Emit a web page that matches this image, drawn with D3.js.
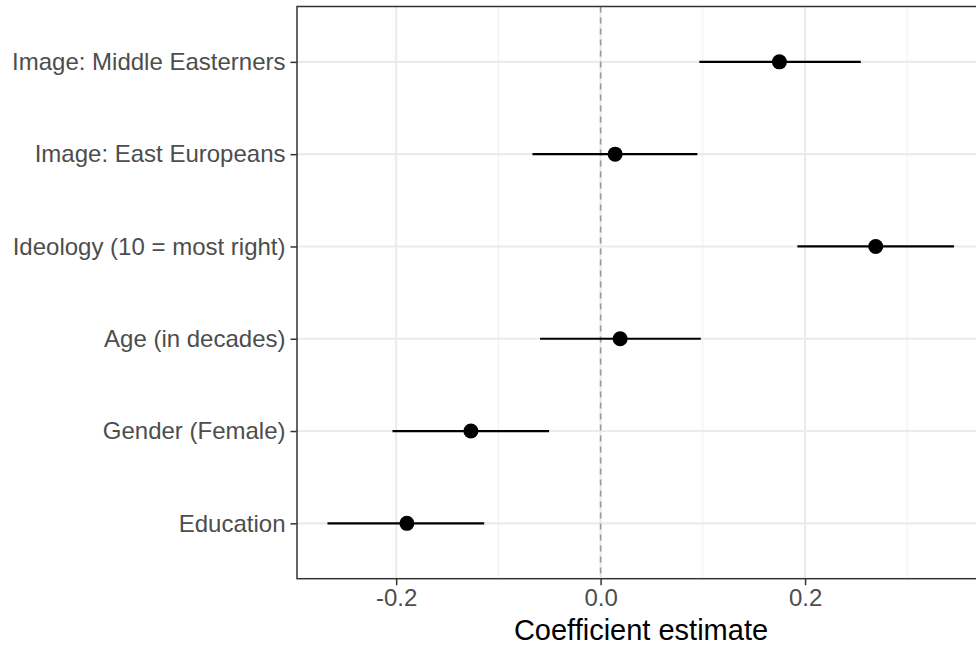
<!DOCTYPE html>
<html>
<head>
<meta charset="utf-8">
<script src="https://cdn.jsdelivr.net/npm/d3@7"></script>
<style>
  html, body { margin: 0; padding: 0; background: #fff; }
  svg { display: block; font-family: "Liberation Sans", Arial, sans-serif; }
</style>
</head>
<body>
<svg id="chart" width="976" height="646"></svg>
<script>
// Model terms, top to bottom
const terms = [
  "Image: Middle Easterners",
  "Image: East Europeans",
  "Ideology (10 = most right)",
  "Age (in decades)",
  "Gender (Female)",
  "Education"
];
const estimates = [0.1749, 0.0142, 0.2691, 0.0191, -0.1269, -0.1895];
const lower     = [0.0966, -0.0667, 0.1925, -0.0592, -0.2036, -0.2672];
const upper     = [0.2545, 0.0947, 0.3457, 0.0980, -0.0504, -0.1139];
const majorTicks = [-0.2, 0.0, 0.2];
const minorTicks = [-0.1, 0.1, 0.3];
const tickLabels = ["-0.2", "0.0", "0.2"];
const xTitle = "Coefficient estimate";

const rows = terms.map((t, i) => ({ term: t, est: estimates[i], lo: lower[i], hi: upper[i] }));

const svg = d3.select("#chart");
const panel = { left: 297, top: 6.5, right: 985, bottom: 578.7 };

const x = d3.scaleLinear().domain([-0.297, 0.376]).range([panel.left, panel.right]);
const y = d3.scalePoint().domain(terms.slice().reverse()).range([panel.bottom, panel.top]).padding(0.6);

const g = svg.append("g");

// panel background
g.append("rect")
  .attr("x", panel.left).attr("y", panel.top)
  .attr("width", panel.right - panel.left).attr("height", panel.bottom - panel.top)
  .attr("fill", "#fff");

// minor grid
g.selectAll("line.minor").data(minorTicks).join("line")
  .attr("class", "minor")
  .attr("x1", d => x(d)).attr("x2", d => x(d))
  .attr("y1", panel.top).attr("y2", panel.bottom)
  .attr("stroke", "#f2f2f2").attr("stroke-width", 1.1);

// major grid (vertical)
g.selectAll("line.majorx").data(majorTicks).join("line")
  .attr("class", "majorx")
  .attr("x1", d => x(d)).attr("x2", d => x(d))
  .attr("y1", panel.top).attr("y2", panel.bottom)
  .attr("stroke", "#ebebeb").attr("stroke-width", 2.1);

// major grid (horizontal)
g.selectAll("line.majory").data(terms).join("line")
  .attr("class", "majory")
  .attr("x1", panel.left).attr("x2", panel.right)
  .attr("y1", d => y(d)).attr("y2", d => y(d))
  .attr("stroke", "#ebebeb").attr("stroke-width", 2.1);

// reference line at zero
g.append("line")
  .attr("x1", x(0)).attr("x2", x(0))
  .attr("y1", panel.top).attr("y2", panel.bottom)
  .attr("stroke", "#9a9a9a").attr("stroke-width", 1.6)
  .attr("stroke-dasharray", "6,5");

// confidence intervals
g.selectAll("line.ci").data(rows).join("line")
  .attr("class", "ci")
  .attr("x1", d => x(d.lo)).attr("x2", d => x(d.hi))
  .attr("y1", d => y(d.term)).attr("y2", d => y(d.term))
  .attr("stroke", "#000").attr("stroke-width", 2.2);

// point estimates
g.selectAll("circle.pt").data(rows).join("circle")
  .attr("class", "pt")
  .attr("cx", d => x(d.est)).attr("cy", d => y(d.term))
  .attr("r", 7.5).attr("fill", "#000");

// panel border
g.append("rect")
  .attr("x", panel.left).attr("y", panel.top)
  .attr("width", panel.right - panel.left).attr("height", panel.bottom - panel.top)
  .attr("fill", "none").attr("stroke", "#333").attr("stroke-width", 1.5);

// x axis
const xAxis = d3.axisBottom(x).tickValues(majorTicks)
  .tickFormat((d, i) => tickLabels[i]).tickSize(6.5).tickPadding(4);
const gx = svg.append("g").attr("transform", `translate(0,${panel.bottom})`).call(xAxis);
gx.select(".domain").remove();
gx.selectAll(".tick line").attr("stroke", "#333").attr("stroke-width", 1.5);
gx.selectAll(".tick text").attr("fill", "#4d4d4d").style("font-size", "24px");

// y axis
const yAxis = d3.axisLeft(y).tickSize(6.5).tickPadding(5);
const gy = svg.append("g").attr("transform", `translate(${panel.left},0)`).call(yAxis);
gy.select(".domain").remove();
gy.selectAll(".tick line").attr("stroke", "#333").attr("stroke-width", 1.5);
gy.selectAll(".tick text").attr("fill", "#4d4d4d").style("font-size", "24px");

// x axis title
svg.append("text")
  .attr("x", (panel.left + panel.right) / 2)
  .attr("y", 640)
  .attr("text-anchor", "middle")
  .attr("fill", "#000")
  .style("font-size", "29px")
  .text(xTitle);
</script>
</body>
</html>
